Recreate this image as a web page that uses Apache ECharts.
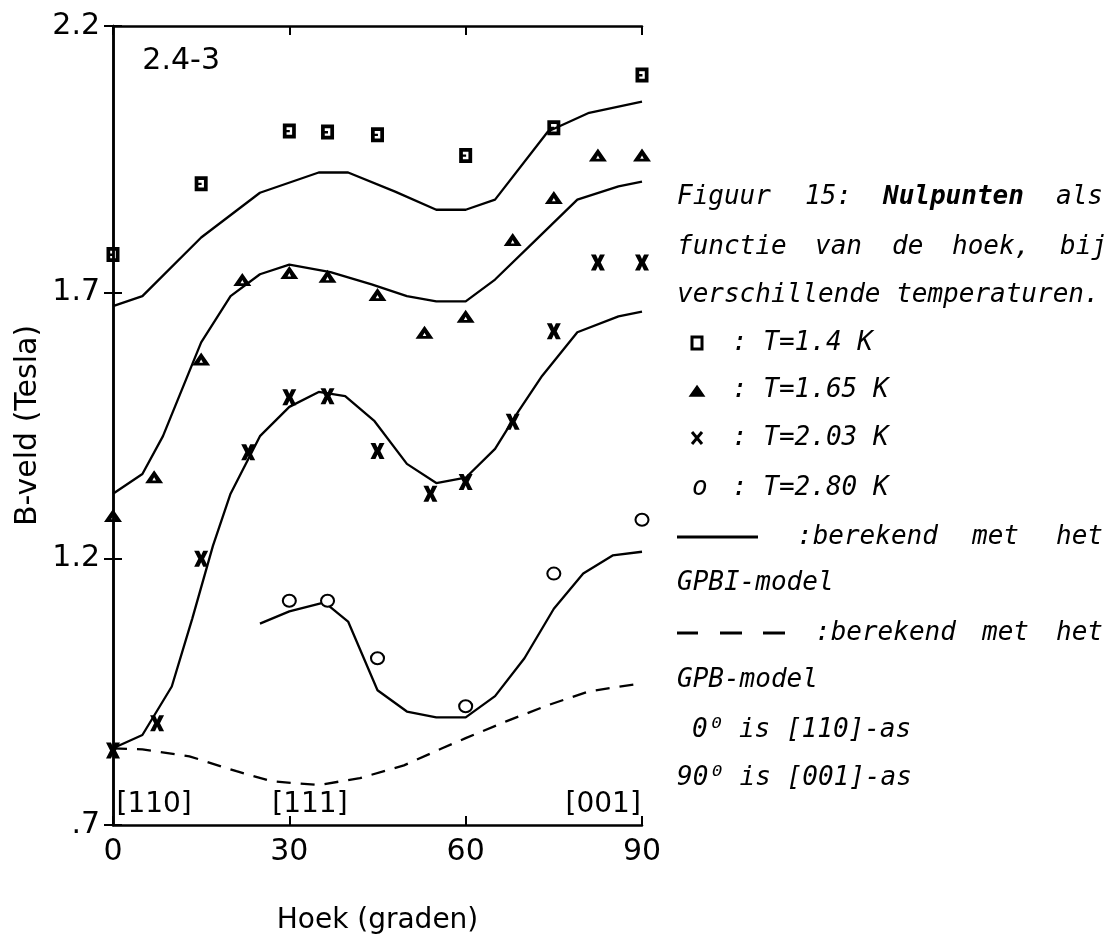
<!DOCTYPE html>
<html>
<head>
<meta charset="utf-8">
<script src="https://cdn.jsdelivr.net/npm/echarts@6/dist/echarts.min.js"></script>
<style>
html,body{margin:0;padding:0;background:#fff;}
#chart{width:1110px;height:940px;}
</style>
</head>
<body>
<div id="chart"></div>
<script>
// ---- axis ticks ----
const angleTicks = [0, 30, 60, 90];
const fieldTicks = [0.7, 1.2, 1.7, 2.2];
const fieldTickLabels = ['.7', '1.2', '1.7', '2.2'];

// ---- measured zero points (angle in degrees, B in tesla) ----
const angT140 = [0, 15, 30, 36.5, 45, 60, 75, 90];
const bT140   = [1.771, 1.904, 2.003, 2.001, 1.996, 1.957, 2.009, 2.108];

const angT165 = [0, 7, 15, 22, 30, 36.5, 45, 53, 60, 68, 75, 82.5, 90];
const bT165   = [1.281, 1.354, 1.575, 1.724, 1.737, 1.730, 1.696, 1.625, 1.655, 1.799, 1.878, 1.958, 1.958];

const angT203 = [0, 7.5, 15, 23, 30, 36.5, 45, 54, 60, 68, 75, 82.5, 90];
const bT203   = [0.840, 0.891, 1.200, 1.400, 1.503, 1.505, 1.402, 1.322, 1.344, 1.457, 1.627, 1.756, 1.756];

const angT280 = [30, 36.5, 45, 60, 75, 90];
const bT280   = [1.121, 1.121, 1.013, 0.923, 1.172, 1.273];

// ---- calculated curves, GPBI model ----
const gpbiAng1 = [0, 5, 15, 25, 35, 40, 48, 55, 60, 65, 74, 81, 90];
const gpbiB1   = [1.674, 1.693, 1.803, 1.887, 1.925, 1.925, 1.889, 1.855, 1.855, 1.874, 2.002, 2.037, 2.058];

const gpbiAng2 = [0, 5, 8.5, 15, 20, 25, 30, 37, 44, 50, 55, 60, 65, 72, 79, 86, 90];
const gpbiB2   = [1.322, 1.359, 1.430, 1.606, 1.693, 1.734, 1.752, 1.738, 1.715, 1.693, 1.683, 1.683, 1.724, 1.799, 1.874, 1.899, 1.908];

const gpbiAng3 = [0, 5, 10, 13.5, 17, 20, 25, 30, 35, 39.5, 44.5, 50, 55, 60, 65, 69, 73, 79, 86, 90];
const gpbiB3   = [0.844, 0.869, 0.960, 1.088, 1.224, 1.322, 1.430, 1.485, 1.513, 1.505, 1.458, 1.378, 1.342, 1.352, 1.406, 1.477, 1.543, 1.625, 1.655, 1.664];

const gpbiAng4 = [25, 30, 36, 40, 45, 50, 55, 60, 65, 70, 75, 80, 85, 90];
const gpbiB4   = [1.078, 1.101, 1.118, 1.082, 0.953, 0.913, 0.902, 0.902, 0.942, 1.013, 1.106, 1.172, 1.206, 1.213];

// ---- calculated curve, GPB model ----
const gpbAng = [0, 5, 13, 21, 27, 35, 42, 49.5, 56, 60, 67, 74, 81, 90];
const gpbB   = [0.844, 0.842, 0.829, 0.801, 0.782, 0.775, 0.788, 0.812, 0.844, 0.863, 0.895, 0.925, 0.951, 0.966];

// ---- annotations inside the plot ----
const dirLabels = ['[110]', '[111]', '[001]'];
const panelLabel = '2.4-3';

const zip = (xs, ys) => xs.map((x, i) => [x, ys[i]]);

// marker shapes
const SQ = 'path://M0 0H14V16H0Z M4 4V12H10V4Z M4 7H7.5V9.5H4Z';
const TRI = 'path://M9 0L18 13H0Z M9 7L7.2 10.3H10.8Z';
const CROSS = 'path://M0 0H4.6L6.5 4.2L8.4 0H13L9.2 7.5L13 15H8.4L6.5 10.8L4.6 15H0L3.8 7.5Z';

const axisFont = '"DejaVu Sans", sans-serif';
const legFont = 'italic 26px "DejaVu Sans Mono", monospace';
const legFontBold = 'italic bold 26px "DejaVu Sans Mono", monospace';

function curve(name, xs, ys, dashed) {
  return {
    name, type: 'line', data: zip(xs, ys), showSymbol: false, smooth: false,
    clip: false, silent: true, z: 2,
    lineStyle: { color: '#000', width: 2.3, type: dashed ? [14, 10] : 'solid', opacity: 1 }
  };
}
function pts(name, xs, ys, symbol, size, extra) {
  return Object.assign({
    name, type: 'scatter', data: zip(xs, ys), symbol, symbolSize: size,
    clip: false, silent: true, z: 5,
    itemStyle: { color: '#000', opacity: 1 }
  }, extra || {});
}
function textAt(name, x, y, txt, size) {
  return {
    name, type: 'scatter', data: [[x, y]], symbolSize: 1, silent: true, clip: false,
    itemStyle: { color: 'rgba(0,0,0,0)', opacity: 1 },
    label: { show: true, position: 'inside', formatter: txt, color: '#000', opacity: 1,
             fontFamily: axisFont, fontSize: size }
  };
}

const axisCommon = {
  axisLine: { show: true, lineStyle: { color: '#000', width: 2.5 } },
  axisTick: { show: true, inside: true, length: 9, lineStyle: { color: '#000', width: 2 } },
  splitLine: { show: false }
};

const option = {
  animation: false,
  backgroundColor: '#fff',
  grid: { left: 113, right: 468, top: 26, bottom: 113, containLabel: false },
  xAxis: [
    Object.assign({}, axisCommon, {
      type: 'value', min: 0, max: 90, position: 'bottom',
      axisTick: Object.assign({}, axisCommon.axisTick, { customValues: angleTicks }),
      axisLabel: { show: true, customValues: angleTicks, margin: 12, color: '#000',
                   fontFamily: axisFont, fontSize: 30 },
      name: 'Hoek (graden)', nameLocation: 'middle', nameGap: 82,
      nameTextStyle: { color: '#000', fontFamily: axisFont, fontSize: 28 }
    }),
    Object.assign({}, axisCommon, {
      type: 'value', min: 0, max: 90, position: 'top',
      axisTick: Object.assign({}, axisCommon.axisTick, { customValues: angleTicks }),
      axisLabel: { show: false }
    })
  ],
  yAxis: [
    Object.assign({}, axisCommon, {
      type: 'value', min: 0.7, max: 2.2, position: 'left',
      axisTick: Object.assign({}, axisCommon.axisTick, { customValues: fieldTicks }),
      axisLabel: { show: true, customValues: fieldTicks, margin: 13, color: '#000',
                   fontFamily: axisFont, fontSize: 30,
                   formatter: v => { const i = fieldTicks.findIndex(t => Math.abs(t - v) < 1e-6); return i >= 0 ? fieldTickLabels[i] : ''; } },
      name: 'B-veld (Tesla)', nameLocation: 'middle', nameGap: 70, nameRotate: 90,
      nameTextStyle: { color: '#000', fontFamily: axisFont, fontSize: 30 }
    }),
    Object.assign({}, axisCommon, {
      type: 'value', min: 0.7, max: 2.2, position: 'right',
      axisTick: Object.assign({}, axisCommon.axisTick, { customValues: fieldTicks }),
      axisLabel: { show: false }
    })
  ],
  series: [
    curve('GPBI 1.4 K', gpbiAng1, gpbiB1),
    curve('GPBI 1.65 K', gpbiAng2, gpbiB2),
    curve('GPBI 2.03 K', gpbiAng3, gpbiB3),
    curve('GPBI 2.80 K', gpbiAng4, gpbiB4),
    curve('GPB', gpbAng, gpbB, true),
    pts('T=1.4 K', angT140, bT140, SQ, [13, 15]),
    pts('T=1.65 K', angT165, bT165, TRI, [18, 13]),
    pts('T=2.03 K', angT203, bT203, CROSS, [14, 16]),
    pts('T=2.80 K', angT280, bT280, 'emptyCircle', [13, 12],
        { itemStyle: { color: '#000', borderColor: '#000', borderWidth: 2.6, opacity: 1 } }),
    textAt('dir110', 7, 0.739, dirLabels[0], 28),
    textAt('dir111', 33.5, 0.739, dirLabels[1], 28),
    textAt('dir001', 83.4, 0.739, dirLabels[2], 28),
    textAt('panel', 11.6, 2.133, panelLabel, 30)
  ],
  graphic: []
};

// ---- right-hand caption / legend ----
const g = [];
function t(x, y, s, font) {
  g.push({ type: 'text', x, y, silent: true,
           style: { text: s, font: font || legFont, fill: '#000', align: 'left', verticalAlign: 'middle',
                    textAlign: 'left', textVerticalAlign: 'middle' } });
}
t(677, 197, 'Figuur'); t(805, 197, '15:'); t(883, 197, 'Nulpunten', legFontBold); t(1056, 197, 'als');
t(677, 247, 'functie'); t(815, 247, 'van'); t(892, 247, 'de'); t(952, 247, 'hoek,'); t(1060, 247, 'bij');
t(677, 295, 'verschillende temperaturen.');
t(732, 343, ': T=1.4 K');
t(732, 390, ': T=1.65 K');
t(732, 438, ': T=2.03 K');
t(692, 488, 'o');
t(732, 488, ': T=2.80 K');
t(797, 537, ':berekend'); t(972, 537, 'met'); t(1056, 537, 'het');
t(677, 583, 'GPBI-model');
t(815, 633, ':berekend'); t(982, 633, 'met'); t(1056, 633, 'het');
t(677, 680, 'GPB-model');
t(692, 730, '0\u2070 is [110]-as');
t(677, 778, '90\u2070 is [001]-as');

// legend marker samples
g.push({ type: 'rect', silent: true, shape: { x: 692, y: 337, width: 10, height: 12 },
         style: { fill: 'none', stroke: '#000', lineWidth: 3 } });
g.push({ type: 'polygon', silent: true, shape: { points: [[697, 386], [704, 396], [690, 396]] },
         style: { fill: '#000', stroke: '#000', lineWidth: 1.5 } });
g.push({ type: 'line', silent: true, shape: { x1: 692, y1: 432, x2: 702, y2: 444 }, style: { stroke: '#000', lineWidth: 3 } });
g.push({ type: 'line', silent: true, shape: { x1: 702, y1: 432, x2: 692, y2: 444 }, style: { stroke: '#000', lineWidth: 3 } });
g.push({ type: 'line', silent: true, shape: { x1: 677, y1: 537, x2: 758, y2: 537 }, style: { stroke: '#000', lineWidth: 3 } });
[[677, 698], [720, 742], [763, 785]].forEach(([a, b]) =>
  g.push({ type: 'line', silent: true, shape: { x1: a, y1: 633, x2: b, y2: 633 }, style: { stroke: '#000', lineWidth: 3 } }));
option.graphic = g;

const chart = echarts.init(document.getElementById('chart'), null, { renderer: 'canvas' });
chart.setOption(option);
</script>
</body>
</html>
